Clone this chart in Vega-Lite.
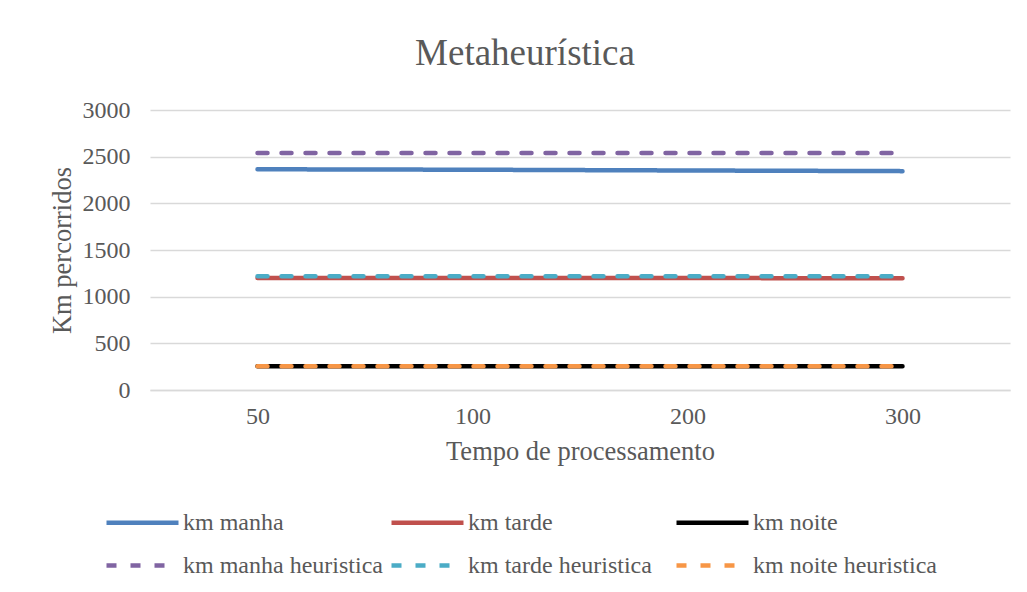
{
  "$schema": "https://vega.github.io/schema/vega-lite/v6.json",
  "autosize": {"type": "none"},
  "width": 860,
  "height": 280,
  "padding": {"left": 150, "top": 110, "right": 17, "bottom": 202},
  "background": "white",
  "title": {
    "text": "Metaheurística",
    "font": "Liberation Serif",
    "fontSize": 37,
    "fontWeight": "normal",
    "color": "#595959",
    "anchor": "middle",
    "dx": -55,
    "offset": 25
  },
  "data": {
    "values": [
      {"tempo": 50, "serie": "km manha", "km": 2365},
      {"tempo": 100, "serie": "km manha", "km": 2360},
      {"tempo": 200, "serie": "km manha", "km": 2352},
      {"tempo": 300, "serie": "km manha", "km": 2345},
      {"tempo": 50, "serie": "km tarde", "km": 1200},
      {"tempo": 100, "serie": "km tarde", "km": 1200},
      {"tempo": 200, "serie": "km tarde", "km": 1199},
      {"tempo": 300, "serie": "km tarde", "km": 1198},
      {"tempo": 50, "serie": "km noite", "km": 255},
      {"tempo": 100, "serie": "km noite", "km": 255},
      {"tempo": 200, "serie": "km noite", "km": 255},
      {"tempo": 300, "serie": "km noite", "km": 255},
      {"tempo": 50, "serie": "km manha heuristica", "km": 2540},
      {"tempo": 100, "serie": "km manha heuristica", "km": 2540},
      {"tempo": 200, "serie": "km manha heuristica", "km": 2540},
      {"tempo": 300, "serie": "km manha heuristica", "km": 2540},
      {"tempo": 50, "serie": "km tarde heuristica", "km": 1220},
      {"tempo": 100, "serie": "km tarde heuristica", "km": 1220},
      {"tempo": 200, "serie": "km tarde heuristica", "km": 1220},
      {"tempo": 300, "serie": "km tarde heuristica", "km": 1220},
      {"tempo": 50, "serie": "km noite heuristica", "km": 255},
      {"tempo": 100, "serie": "km noite heuristica", "km": 255},
      {"tempo": 200, "serie": "km noite heuristica", "km": 255},
      {"tempo": 300, "serie": "km noite heuristica", "km": 255}
    ]
  },
  "mark": {"type": "line", "strokeWidth": 4.5, "strokeCap": "round"},
  "encoding": {
    "x": {
      "field": "tempo",
      "type": "ordinal",
      "scale": {"padding": 0.5},
      "axis": {
        "title": "Tempo de processamento",
        "labelAngle": 0,
        "labelFont": "Liberation Serif",
        "labelFontSize": 24,
        "labelColor": "#595959",
        "labelPadding": 14,
        "titleFont": "Liberation Serif",
        "titleFontSize": 26.5,
        "titleFontWeight": "normal",
        "titleColor": "#595959",
        "titlePadding": 10,
        "ticks": false,
        "domainColor": "#d9d9d9",
        "domainWidth": 1.5,
        "grid": false
      }
    },
    "y": {
      "field": "km",
      "type": "quantitative",
      "scale": {"domain": [0, 3000]},
      "axis": {
        "title": "Km percorridos",
        "values": [0, 500, 1000, 1500, 2000, 2500, 3000],
        "format": "d",
        "labelFont": "Liberation Serif",
        "labelFontSize": 24,
        "labelColor": "#595959",
        "labelPadding": 20,
        "titleFont": "Liberation Serif",
        "titleFontSize": 26.5,
        "titleFontWeight": "normal",
        "titleColor": "#595959",
        "titlePadding": 6,
        "ticks": false,
        "domain": false,
        "gridColor": "#d9d9d9",
        "gridWidth": 1.5
      }
    },
    "color": {
      "field": "serie",
      "type": "nominal",
      "title": null,
      "scale": {
        "domain": ["km manha", "km manha heuristica", "km tarde", "km tarde heuristica", "km noite", "km noite heuristica"],
        "range": ["#4F81BD", "#8064A2", "#C0504D", "#4BACC6", "#000000", "#F79646"]
      },
      "legend": {
        "orient": "none",
        "legendX": -46,
        "legendY": 392,
        "columns": 3,
        "symbolType": "M-1,0L3,0",
        "symbolSize": 1296,
        "symbolStrokeWidth": 4.5,
        "labelFont": "Liberation Serif",
        "labelFontSize": 24,
        "labelColor": "#595959",
        "labelOffset": 38,
        "labelLimit": 400,
        "rowPadding": 10,
        "columnPadding": -1,
        "gridAlign": "all"
      }
    },
    "strokeDash": {
      "field": "serie",
      "type": "nominal",
      "title": null,
      "scale": {
        "domain": ["km manha", "km manha heuristica", "km tarde", "km tarde heuristica", "km noite", "km noite heuristica"],
        "range": [[1, 0], [10, 14], [1, 0], [10, 14], [1, 0], [10, 14]]
      }
    }
  },
  "config": {
    "view": {"stroke": null},
    "font": "Liberation Serif",
    "legend": {"labelFont": "Liberation Serif"}
  }
}
